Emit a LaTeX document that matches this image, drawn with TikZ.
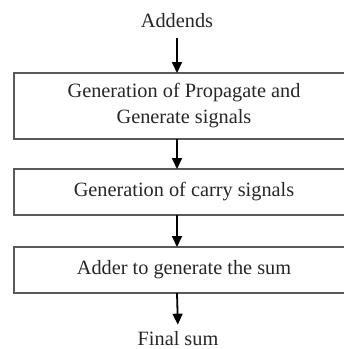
\documentclass[tikz,border=0pt]{standalone}
\usepackage{fontspec}
\setmainfont{Liberation Serif}
\usetikzlibrary{arrows.meta}
\begin{document}
\begin{tikzpicture}[x=1pt,y=-1pt,
	box/.style={draw=black!65, line width=1.5pt, minimum width=340pt, align=center, inner sep=0pt, outer sep=0pt, text=black!85},
	lbl/.style={text=black!85, inner sep=2pt},
	arr/.style={line width=1.8pt, -{Triangle[width=10pt,length=11pt]}}]
	\useasboundingbox (0,0) rectangle (344,349);
	\fontsize{20.3}{26}\selectfont
	\node (add) at (177, 21)	[lbl]	{Addends};
	\node (b1) at (184, 106)	[box, minimum height=66pt]	{Generation of Propagate and\\ Generate signals};
	\node (b2) at (184, 192)	[box, minimum height=46pt]	{Generation of carry signals};
	\node (b3) at (184, 270)	[box, minimum height=46pt]	{Adder to generate the sum};
	\node (fin) at (178, 339)	[lbl]	{Final sum};
	\draw[arr, shorten <=8pt] (add.south) -- (add |- b1.north);
	\draw[arr] (add |- b1.south) -- (add |- b2.north);
	\draw[arr] (add |- b2.south) -- (add |- b3.north);
	\draw[arr, shorten >=5pt] (add |- b3.south) -- (fin.north);
\end{tikzpicture}
\end{document}
